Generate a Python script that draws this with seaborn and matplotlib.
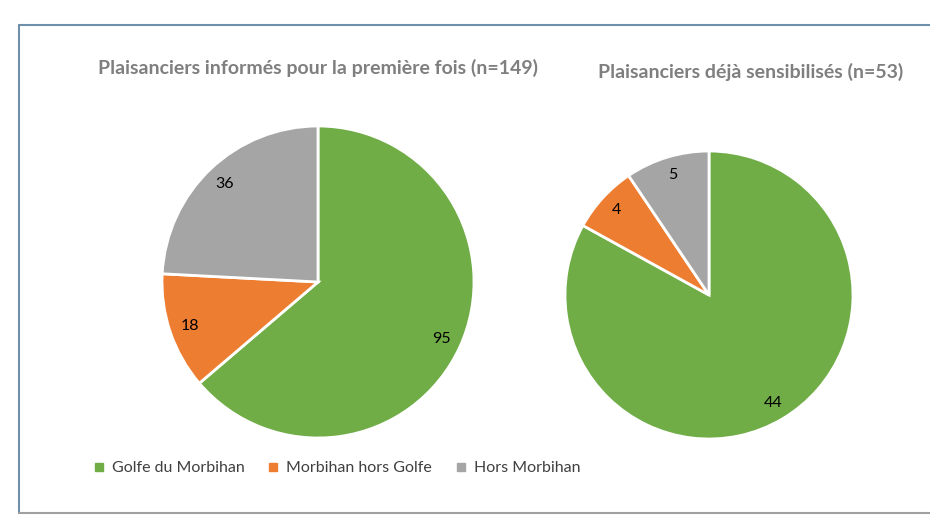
import matplotlib.pyplot as plt
import seaborn as sns
from matplotlib.lines import Line2D

sns.set_theme(style='white')
plt.rcParams['font.family'] = ['Lato', 'DejaVu Sans']

categories = ['Golfe du Morbihan', 'Morbihan hors Golfe', 'Hors Morbihan']
first_time = [95, 18, 36]
already_aware = [44, 4, 5]
titles = ['Plaisanciers informés pour la première fois (n=149)',
          'Plaisanciers déjà sensibilisés (n=53)']
colors = ['#70AD47', '#ED7D31', '#A5A5A5']

W, H = 930, 519
fig = plt.figure(figsize=(W / 100, H / 100), dpi=100)
fig.patch.set_facecolor('white')


def px_axes(cx, cy, r):
    # axes box around a pie centre given in pixels (y from the top)
    return fig.add_axes([(cx - r) / W, 1 - (cy + r) / H, 2 * r / W, 2 * r / H])


def draw_pie(ax, values):
    total = sum(values)
    ax.pie(values, colors=colors, startangle=90, counterclock=False,
           wedgeprops=dict(edgecolor='white', linewidth=2),
           autopct=lambda p: f'{p * total / 100:.0f}', pctdistance=0.87,
           textprops=dict(fontsize=11.5, color='black'))
    ax.set_aspect('equal')
    ax.set_xlim(-1, 1)
    ax.set_ylim(-1, 1)
    ax.axis('off')


ax1 = px_axes(318, 282, 156)
draw_pie(ax1, first_time)
ax2 = px_axes(709, 295, 144)
draw_pie(ax2, already_aware)

fig.text(318 / W, 1 - 68 / H, titles[0], ha='center', va='center',
         fontsize=14, fontweight='bold', color='#7F7F7F')
fig.text(751 / W, 1 - 72 / H, titles[1], ha='center', va='center',
         fontsize=14, fontweight='bold', color='#7F7F7F')

handles = [Line2D([], [], marker='s', linestyle='', markersize=6, color=c)
           for c in colors]
fig.legend(handles, categories, ncol=3, loc='center left',
           bbox_to_anchor=(80 / W, 1 - 468 / H), frameon=False,
           fontsize=11.5, labelcolor='#404040', handlelength=0.6,
           handletextpad=0.5, columnspacing=1.5)

# chart frame
frame = '#7090AA'
fig.add_artist(Line2D([19 / W, 19 / W], [1 - 25 / H, 1 - 513 / H], color=frame, lw=1.5))
fig.add_artist(Line2D([19 / W, 1], [1 - 25 / H, 1 - 25 / H], color=frame, lw=1.5))
fig.add_artist(Line2D([19 / W, 1], [1 - 513 / H, 1 - 513 / H], color='#A0A0A0', lw=1.5))

fig.savefig('out.png', dpi=100)
